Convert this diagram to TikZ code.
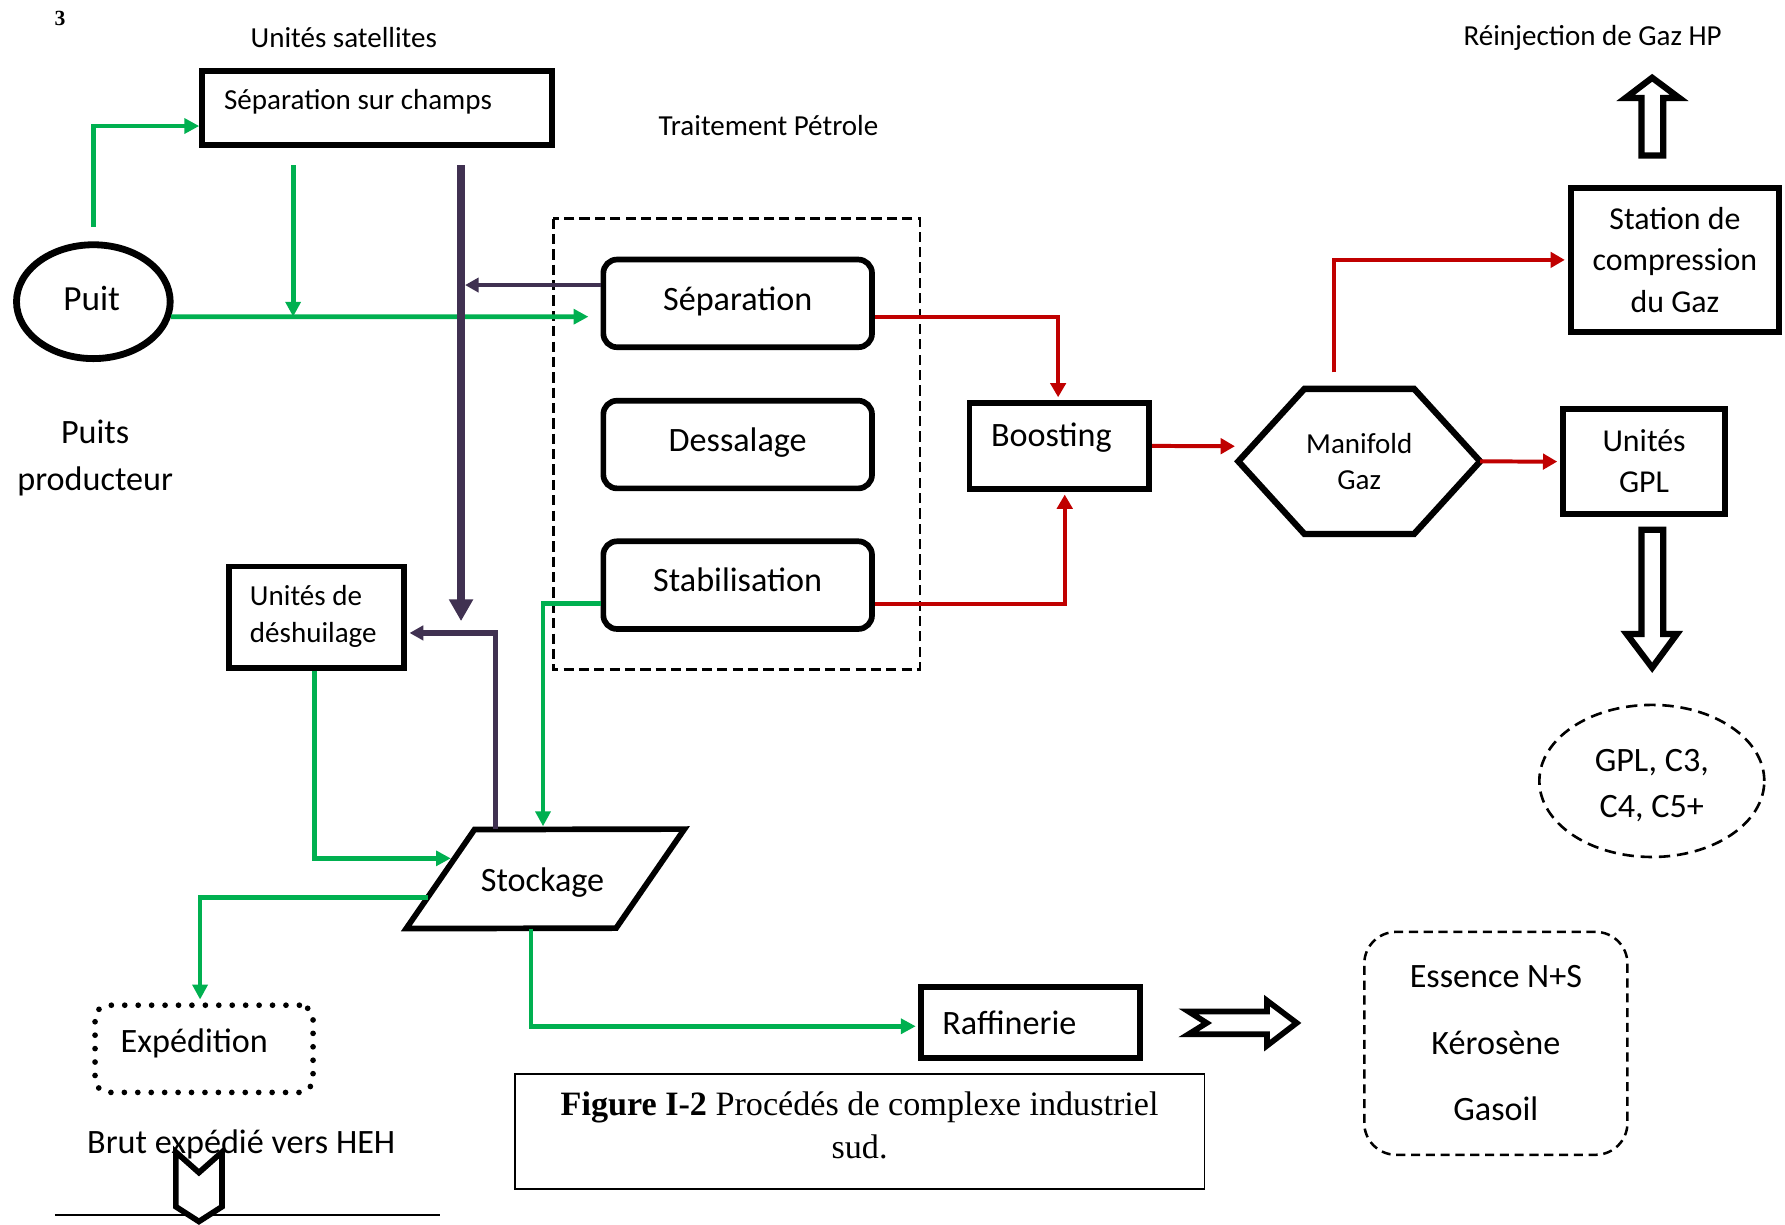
\documentclass[tikz,border=0pt]{standalone}
\usepackage{fontspec}
\setmainfont{Carlito}
\newfontfamily\serifcap{Liberation Serif}
\usepackage{tikz}
\usetikzlibrary{arrows.meta,positioning,shapes.geometric}
\definecolor{flowgreen}{RGB}{0,176,80}
\definecolor{gasred}{RGB}{192,0,0}
\definecolor{oilpurple}{RGB}{64,49,81}

\begin{document}
\begin{tikzpicture}[x=1pt,y=-1pt,
  lbl/.style={inner sep=0pt,font=\fontsize{25.5}{31}\selectfont},
  big/.style={inner sep=0pt,font=\fontsize{30}{36}\selectfont},
  box/.style={draw,line width=5pt,inner sep=0pt,align=center},
  rbox/.style={box,big,rounded corners=12pt,minimum width=236pt,minimum height=77pt},
  dashbox/.style={draw,line width=2.2pt,dash pattern=on 9pt off 4.5pt},
  gline/.style={flowgreen,line width=4.2pt,-{Triangle[length=13pt,width=13pt]}},
  rline/.style={gasred,line width=3.5pt,-{Triangle[length=12.5pt,width=13.5pt]}},
  pline/.style={oilpurple,line width=4pt,-{Triangle[length=12pt,width=12.5pt]}},
  hollow/.style={draw,fill=white,line width=5.5pt}]
\path[use as bounding box,fill=white] (0,0) rectangle (1568,1076);
% titles
\node[font=\serifcap\bfseries\fontsize{19}{22}\selectfont] (pagenum) at (52.8,16) {3};
\node[lbl] (satlabel) at (302,33) {Unités satellites};
\node[lbl] (traitlabel) at (675,110) {Traitement Pétrole};
\node[lbl] (reinj) at (1399,33.3) {Réinjection de Gaz HP};
% wells and field units
\node[draw,ellipse,line width=6pt,minimum width=135pt,minimum height=100pt,inner sep=0pt,
  font=\fontsize{31}{37}\selectfont] (puit) at (82,265) {};
\node[font=\fontsize{31}{37}\selectfont,inner sep=0pt] (puitt) at (80.5,262) {Puit};
\node[big,align=center,font=\fontsize{30}{41}\selectfont] (puitslabel) at (83.6,402.5) {Puits\\producteur};
\node[box,minimum width=307.5pt,minimum height=65pt] (sepchamps) at (331.25,95) {};
\node[lbl,anchor=west] (sepchampst) at (196.7,89.3) {Séparation sur champs};
% oil treatment
\draw[dashbox] (486,192) rectangle (808,588);
\node[rbox] (sep) at (648,266.5) {Séparation\rule[-9pt]{0pt}{1pt}};
\node[rbox] (dess) at (648,390.5) {Dessalage\rule[-9pt]{0pt}{1pt}};
\node[rbox] (stab) at (648,514) {Stabilisation\rule[-9pt]{0pt}{1pt}};
\node[box,minimum width=158pt,minimum height=75.5pt] (boost) at (930.5,391.7) {};
\node[big] (boostt) at (923.5,384.8) {Boosting};
% gas side
\node[lbl,align=center,minimum width=212pt,minimum height=127pt] (mani) at (1194,405.3) {Manifold\\Gaz};
\draw[line width=5.5pt] (mani.west) -- ([xshift=58pt]mani.north west) -- ([xshift=-58pt]mani.north east)
  -- (mani.east) -- ([xshift=-58pt]mani.south east) -- ([xshift=58pt]mani.south west) -- cycle;
\node[box,line width=5.5pt,minimum width=183pt,minimum height=126.5pt,
  font=\fontsize{28}{36.5}\selectfont] (station) at (1471.3,228.3) {Station de\\compression\\du Gaz};
\node[box,minimum width=142.6pt,minimum height=92pt,font=\fontsize{28}{36}\selectfont] (gpl) at (1444.2,405.5) {Unités\\GPL};
\node[draw,ellipse,line width=2.3pt,dash pattern=on 10pt off 6pt,minimum width=197.6pt,minimum height=133.6pt,
  inner sep=0pt] (gplprod) at (1451,686) {};
\node[align=center,inner sep=0pt,font=\fontsize{30}{40}\selectfont] (gplprodt) at (1451,690) {GPL, C3,\\C4, C5+};
\draw[hollow] (1442,136.5) -- (1442,86) -- (1428,86) -- (1451.3,68.3) -- (1475,86) -- (1461,86) -- (1461,136.5) -- cycle;
\draw[hollow] (1442,465.4) -- (1461,465.4) -- (1461,557) -- (1473,557) -- (1451.3,586.5) -- (1429,557) -- (1442,557) -- cycle;
% storage and shipping
\node[box,minimum width=153.9pt,minimum height=89pt] (desh) at (277.85,542) {};
\node[lbl,anchor=west,align=left,font=\fontsize{25.5}{33}\selectfont] (desht) at (219.4,541.3) {Unités de\\déshuilage};
\node[inner sep=0pt,minimum width=244pt,minimum height=87pt] (stock) at (479,772) {};
\draw[line width=5pt] (stock.south west) -- ++(60,-87) -- (stock.north east) -- ++(-60,87) -- cycle;
\node[big] (stockt) at (476.6,775.5) {Stockage};
\node[draw,line width=5pt,dash pattern=on 0pt off 11.8pt,line cap=round,rounded corners=12pt,
  minimum width=191.5pt,minimum height=76.6pt] (exped) at (179.25,921.3) {};
\node[big] (expedt) at (170.7,916.7) {Expédition};
\draw[line width=1.2pt] (48.3,1067.3) -- (386.6,1067.3);
\draw[hollow,line width=5pt] (154.5,1012) -- (174.75,1030) -- (195,1012) -- (195,1060) -- (174.75,1073) -- (154.5,1060) -- cycle;
\node[big] (brut) at (211.9,1005) {Brut expédié vers HEH};
% refinery
\node[box,minimum width=192.6pt,minimum height=62.6pt] (raff) at (905.2,898.2) {};
\node[big,anchor=west] (rafft) at (827.6,898.8) {Raffinerie};
\draw[hollow,line width=5pt] (1044,888.5) -- (1113,888.5) -- (1113,879) -- (1139,898.6) -- (1113,918.5)
  -- (1113,908.5) -- (1044,908.5) -- (1060,898.6) -- cycle;
\node[draw,line width=2.2pt,dash pattern=on 8pt off 5pt,rounded corners=28pt,minimum width=231.2pt,
  minimum height=195.8pt,align=center,font=\fontsize{30}{58.5}\selectfont] (produits) at (1314,916.5) {Essence N+S\\Kérosène\\Gasoil};
\node[draw,line width=1.5pt,minimum width=606pt,minimum height=101.5pt] (caption) at (755.1,994) {};
\node[align=center,inner sep=0pt,font=\serifcap\fontsize{30}{38}\selectfont] (captiont) at (755.1,988.5)
  {\textbf{Figure I-2} Procédés de complexe industriel\\sud.};
% green flows
\draw[gline] ([yshift=13pt]puit.north) |- ([yshift=-15.7pt]sepchamps.west);
\draw[gline] (puit.-11.2) -- ([xshift=-10.6pt,yshift=-11.7pt]sep.west);
\coordinate (greenjoin) at (257.5,278.2);
\draw[gline] ([xshift=-73.75pt,yshift=-15pt]sepchamps.south) -- (greenjoin);
\draw[gline] ([yshift=-16.3pt]stab.west) -| ([xshift=-2pt,yshift=2.5pt]stock.north);
\coordinate (stockin) at (396,754);
\draw[gline] ([xshift=-1.3pt]desh.south) |- (stockin);
\coordinate (stockout) at (376,788.3);
\draw[gline] (stockout) -| ([xshift=-3.5pt,yshift=2.5pt]exped.north);
\draw[gline] ([xshift=-12.5pt]stock.south) |- ([xshift=-2pt,yshift=-3.3pt]raff.west);
% oil (purple) flows
\coordinate (oilend) at (405,545.6);
\draw[oilpurple,line width=6.5pt,-{Triangle[length=19pt,width=20pt]}] ([xshift=73.75pt,yshift=-15pt]sepchamps.south) -- (oilend);
\coordinate (oiljoin) at (408.5,250.4);
\draw[pline] ([yshift=16.1pt]sep.west) -- (oiljoin);
\draw[pline,line width=4.5pt] ([xshift=-44pt]stock.north) |- ([xshift=2.5pt,yshift=-14pt]desh.east);
% gas (red) flows
\draw[rline] ([yshift=-11.7pt]sep.east) -| ([xshift=-1pt,yshift=2.5pt]boost.north);
\draw[rline] ([yshift=-16.3pt]stab.east) -| ([xshift=4.8pt,yshift=-2.5pt]boost.south);
\draw[rline] (boost.east) -- ([xshift=-3pt,yshift=13.3pt]mani.west);
\draw[rline] ([xshift=-22.5pt,yshift=14.5pt]mani.north) |- ([xshift=-2.5pt]station.west);
\draw[rline] (mani.east) -- ([xshift=-2.5pt]gpl.west);
\end{tikzpicture}
\end{document}
